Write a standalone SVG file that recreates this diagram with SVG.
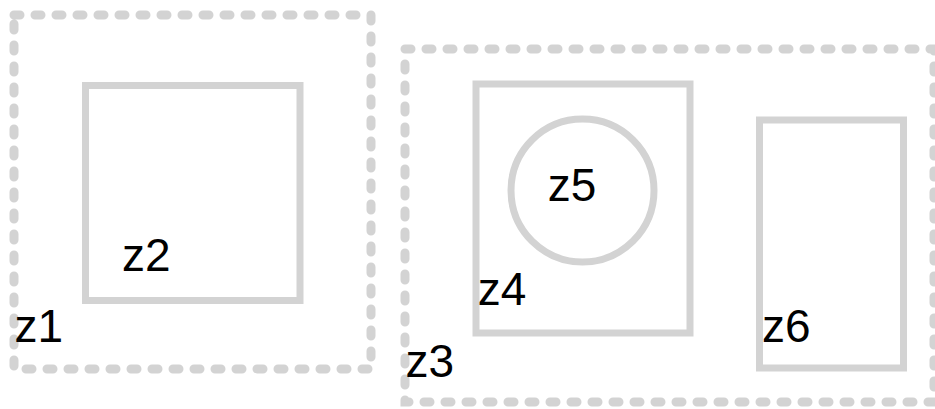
<svg xmlns="http://www.w3.org/2000/svg" width="935" height="409" viewBox="0 0 935 409">
<style>
.dashed{fill:none;stroke:#d3d3d3;stroke-width:9;stroke-dasharray:6 15;stroke-linecap:round}
.solid{fill:none;stroke:#d3d3d3;stroke-width:7}
.lbl{font-family:"Liberation Sans",Arial,sans-serif;font-size:46px;fill:#000}
</style>
<rect width="935" height="409" fill="#fff"/>
<g id="z1">
<rect class="dashed" x="14" y="15" width="357" height="354"/>
<text class="lbl" x="14.5" y="341.7">z1</text>
</g>
<g id="z2">
<rect class="solid" x="85.5" y="85.5" width="214.5" height="215"/>
<text class="lbl" x="122" y="271">z2</text>
</g>
<g id="z3">
<rect class="dashed" x="405" y="49" width="529" height="353"/>
<text class="lbl" x="405.5" y="376.7">z3</text>
</g>
<g id="z4">
<rect class="solid" x="476" y="84" width="214" height="249"/>
<text class="lbl" x="477.7" y="305">z4</text>
</g>
<g id="z5">
<circle class="solid" cx="582.5" cy="190.5" r="71.5"/>
<text class="lbl" x="547.7" y="201">z5</text>
</g>
<g id="z6">
<rect class="solid" x="759.5" y="120" width="144" height="248"/>
<text class="lbl" x="762" y="341.7">z6</text>
</g>
<g id="connectors"></g>
</svg>
